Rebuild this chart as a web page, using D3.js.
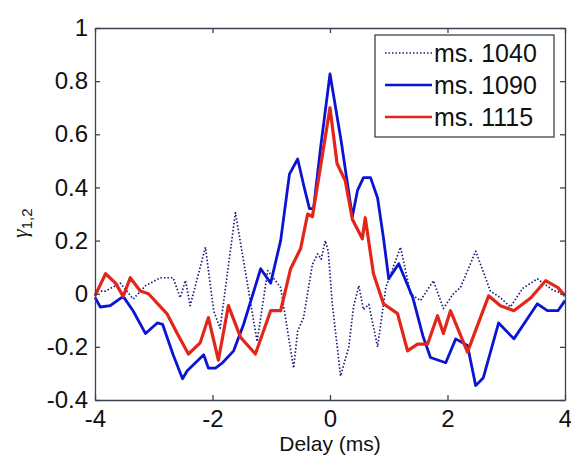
<!DOCTYPE html>
<html>
<head>
<meta charset="utf-8">
<script src="https://cdn.jsdelivr.net/npm/d3@7"></script>
<style>
  body { margin: 0; background: #fff; }
  text { font-family: Arial, "Liberation Sans", sans-serif; fill: #111; }
</style>
</head>
<body>
<div id="chart"></div>
<script>
// delay (ms) and correlation values
const ms1040_x = [-3.96, -3.82, -3.57, -3.35, -3.14, -2.89, -2.67, -2.55, -2.46, -2.38, -2.12, -1.98, -1.87, -1.61, -1.24, -1.06, -0.84, -0.62, -0.55, -0.45, -0.30, -0.21, -0.15, -0.08, -0.03, 0.04, 0.18, 0.32, 0.40, 0.49, 0.57, 0.66, 0.81, 0.95, 1.2, 1.37, 1.54, 1.76, 1.93, 2.1, 2.22, 2.48, 2.73, 2.9, 3.07, 3.28, 3.53, 3.81, 4.0];
const ms1040_y = [0.01, 0.01, 0.04, -0.02, 0.03, 0.06, 0.06, -0.015, 0.05, -0.045, 0.175, -0.065, -0.13, 0.305, -0.18, 0.087, 0.023, -0.28, -0.14, -0.09, 0.11, 0.15, 0.13, 0.2, 0.16, -0.04, -0.31, -0.2, -0.05, 0.03, -0.06, -0.04, -0.2, 0.023, 0.175, 0, -0.026, 0.049, -0.056, 0, 0.023, 0.16, 0.01, -0.015, -0.05, 0.02, 0.056, 0.011, 0];

const ms1090_x = [-4.0, -3.91, -3.74, -3.52, -3.35, -3.14, -2.94, -2.85, -2.67, -2.51, -2.43, -2.15, -2.07, -1.95, -1.83, -1.64, -1.47, -1.18, -1.01, -0.84, -0.69, -0.55, -0.45, -0.35, -0.28, -0.16, 0, 0.19, 0.29, 0.38, 0.47, 0.57, 0.69, 0.81, 0.91, 1.0, 1.17, 1.41, 1.58, 1.71, 1.97, 2.14, 2.34, 2.48, 2.61, 2.87, 3.13, 3.53, 3.7, 3.88, 4.0];
const ms1090_y = [-0.014, -0.05, -0.045, -0.01, -0.065, -0.15, -0.11, -0.115, -0.23, -0.32, -0.29, -0.23, -0.28, -0.28, -0.26, -0.215, -0.115, 0.094, 0.04, 0.2, 0.45, 0.507, 0.41, 0.32, 0.32, 0.55, 0.827, 0.575, 0.425, 0.29, 0.39, 0.437, 0.437, 0.36, 0.21, 0.056, 0.113, -0.015, -0.158, -0.24, -0.26, -0.17, -0.195, -0.346, -0.316, -0.11, -0.17, -0.038, -0.064, -0.064, -0.026];

const ms1115_x = [-4.0, -3.82, -3.65, -3.52, -3.40, -3.23, -3.09, -2.77, -2.60, -2.41, -2.21, -2.07, -1.90, -1.73, -1.52, -1.27, -1.01, -0.84, -0.67, -0.50, -0.38, -0.30, -0.20, 0, 0.12, 0.26, 0.38, 0.55, 0.60, 0.74, 0.91, 1.15, 1.32, 1.49, 1.66, 1.83, 1.93, 2.05, 2.34, 2.70, 2.90, 3.13, 3.42, 3.67, 3.88, 4.0];
const ms1115_y = [-0.008, 0.075, 0.04, -0.01, 0.06, 0.01, 0, -0.077, -0.15, -0.227, -0.185, -0.09, -0.25, -0.045, -0.165, -0.227, -0.064, -0.064, 0.094, 0.17, 0.30, 0.29, 0.425, 0.70, 0.49, 0.425, 0.28, 0.207, 0.286, 0.075, -0.038, -0.075, -0.215, -0.19, -0.19, -0.083, -0.15, -0.064, -0.22, -0.008, -0.045, -0.064, -0.015, 0.049, 0.023, -0.008];

const xTicks = [-4, -2, 0, 2, 4];
const yTicks = [-0.4, -0.2, 0, 0.2, 0.4, 0.6, 0.8, 1];
const legendLabels = ["ms. 1040", "ms. 1090", "ms. 1115"];

const width = 571, height = 458;
const margin = {left: 95, right: 6, top: 28, bottom: 58};

const svg = d3.select("#chart").append("svg")
    .attr("width", width)
    .attr("height", height);

const x = d3.scaleLinear().domain([-4, 4]).range([margin.left, width - margin.right]);
const y = d3.scaleLinear().domain([-0.4, 1]).range([height - margin.bottom, margin.top]);

const axisColor = "#3a4450";
const fmt = d => String(+(+d).toFixed(1));   // plain hyphen minus, like the original

// series
const series = [
    {xs: ms1040_x, ys: ms1040_y, color: "#1a1a7a", width: 1.7, dash: "1.5,2"},
    {xs: ms1090_x, ys: ms1090_y, color: "#0a14d2", width: 2.8, dash: null},
    {xs: ms1115_x, ys: ms1115_y, color: "#e3261a", width: 3.2, dash: null}
];

const line = d3.line().x(d => x(d[0])).y(d => y(d[1]));

series.forEach(s => {
    const pts = s.xs.map((v, i) => [v, s.ys[i]]);
    svg.append("path")
        .datum(pts)
        .attr("d", line)
        .attr("fill", "none")
        .attr("stroke", s.color)
        .attr("stroke-width", s.width)
        .attr("stroke-linejoin", "round")
        .attr("stroke-dasharray", s.dash);
});

// axes (ticks pointing inward, box on all sides)
const tickLen = 5;
svg.append("g")
    .attr("transform", `translate(0,${y(-0.4)})`)
    .call(d3.axisBottom(x).tickValues(xTicks).tickSizeInner(-tickLen).tickSizeOuter(0).tickPadding(10).tickFormat(fmt))
    .call(g => g.selectAll("text").attr("font-size", 24).attr("fill", "#111").attr("font-family", "Arial, 'Liberation Sans', sans-serif"));

svg.append("g")
    .attr("transform", `translate(${x(-4)},0)`)
    .call(d3.axisLeft(y).tickValues(yTicks).tickSizeInner(-tickLen).tickSizeOuter(0).tickPadding(7).tickFormat(fmt))
    .call(g => g.selectAll("text").attr("font-size", 24).attr("fill", "#111").attr("font-family", "Arial, 'Liberation Sans', sans-serif"));

svg.append("g")
    .attr("transform", `translate(0,${y(1)})`)
    .call(d3.axisTop(x).tickValues(xTicks).tickSizeInner(-tickLen).tickSizeOuter(0).tickFormat(""));

svg.append("g")
    .attr("transform", `translate(${x(4)},0)`)
    .call(d3.axisRight(y).tickValues(yTicks).tickSizeInner(-tickLen).tickSizeOuter(0).tickFormat(""));

svg.selectAll(".domain, .tick line").attr("stroke", axisColor).attr("stroke-width", 1.3);

// axis labels
svg.append("text")
    .attr("x", x(0))
    .attr("y", 451)
    .attr("text-anchor", "middle")
    .attr("font-size", 21)
    .text("Delay (ms)");

const yl = svg.append("text")
    .attr("transform", "translate(27,238) rotate(-90)")
    .attr("font-size", 22);
yl.append("tspan").attr("font-family", "'Liberation Serif', 'DejaVu Serif', serif").attr("font-style", "italic").text("γ");
yl.append("tspan").attr("font-size", 15).attr("dy", 5).text("1,2");

// legend
const lg = svg.append("g").attr("transform", "translate(375,35)");
lg.append("rect")
    .attr("width", 179)
    .attr("height", 102)
    .attr("fill", "#fff")
    .attr("stroke", axisColor)
    .attr("stroke-width", 1.3);

legendLabels.forEach((lab, i) => {
    const s = series[i];
    const cy = 18 + i * 32;
    lg.append("line")
        .attr("x1", 10).attr("x2", 57)
        .attr("y1", cy).attr("y2", cy)
        .attr("stroke", s.color)
        .attr("stroke-width", i === 0 ? 1.3 : 2.4)
        .attr("stroke-dasharray", s.dash);
    lg.append("text")
        .attr("x", 59)
        .attr("y", cy + 9)
        .attr("font-size", 25)
        .text(lab);
});
</script>
</body>
</html>
